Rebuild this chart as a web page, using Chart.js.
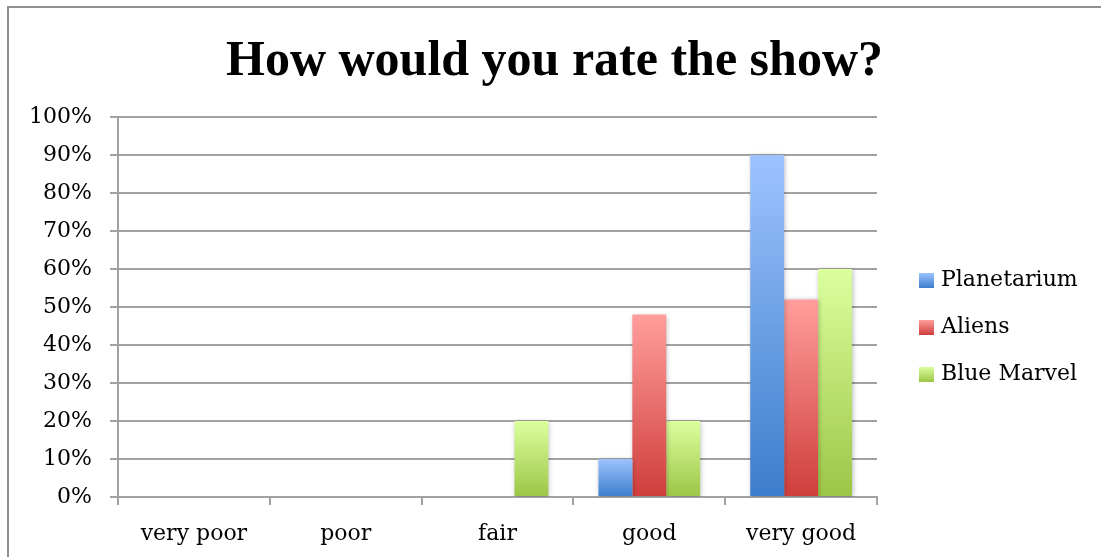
<!DOCTYPE html>
<html>
<head>
<meta charset="utf-8">
<title>How would you rate the show?</title>
<script src="https://cdn.jsdelivr.net/npm/chart.js@4.4.1/dist/chart.umd.min.js"></script>
<style>
  html, body { margin: 0; padding: 0; background: #fff; }
  #wrap { position: relative; width: 1101px; height: 557px; overflow: hidden; }
  #frame {
    position: absolute; left: 7px; top: 6px; width: 1200px; height: 700px;
    border-left: 2px solid #8e8e8e; border-top: 2px solid #8e8e8e;
  }
  canvas { position: absolute; left: 0; top: 0; }
</style>
</head>
<body>
<div id="wrap">
  <div id="frame"></div>
  <canvas id="chart" width="1101" height="557"></canvas>
</div>
<script>
// Survey answers (percent of respondents per rating)
const categories = ['very poor', 'poor', 'fair', 'good', 'very good'];
const seriesNames = ['Planetarium', 'Aliens', 'Blue Marvel'];
const planetarium = [0, 0, 0, 10, 90];
const aliens = [0, 0, 0, 48, 52];
const blueMarvel = [0, 0, 20, 20, 60];
const yTickValues = [0, 10, 20, 30, 40, 50, 60, 70, 80, 90, 100];

// Vertical gradient per series: [top, bottom]
const seriesGradients = [
  ['#9dc3ff', '#3c7dcb'],
  ['#ff9e9c', '#cf3e3b'],
  ['#dcff9e', '#9bc646']
];

const serif = "'DejaVu Serif', serif";
const gridGray = '#a2a2a2';

// Small gradient swatches used as legend markers
const swatches = seriesGradients.map(([top, bottom]) => {
  const c = document.createElement('canvas');
  c.width = 15; c.height = 15;
  const g = c.getContext('2d');
  const lg = g.createLinearGradient(0, 0, 0, 15);
  lg.addColorStop(0, top);
  lg.addColorStop(1, bottom);
  g.fillStyle = lg;
  g.fillRect(0, 0, 15, 15);
  return c;
});

function barFill(seriesIndex) {
  const [top, bottom] = seriesGradients[seriesIndex];
  return (context) => {
    const chart = context.chart;
    const y = chart.scales && chart.scales.y;
    if (!chart.chartArea || !y || context.raw === undefined || !context.raw) return bottom;
    const yTop = y.getPixelForValue(context.raw);
    const yBase = y.getPixelForValue(0);
    if (!isFinite(yTop) || !isFinite(yBase) || yTop === yBase) return bottom;
    const grad = chart.ctx.createLinearGradient(0, yTop, 0, yBase);
    grad.addColorStop(0, top);
    grad.addColorStop(1, bottom);
    return grad;
  };
}

const seriesValues = [planetarium, aliens, blueMarvel];

// Soft drop shadow under the bars
const barShadow = {
  id: 'barShadow',
  beforeDatasetsDraw(chart) {
    const ctx = chart.ctx;
    ctx.save();
    ctx.shadowColor = 'rgba(0,0,0,0.28)';
    ctx.shadowBlur = 5;
    ctx.shadowOffsetX = 1;
    ctx.shadowOffsetY = 1;
  },
  afterDatasetsDraw(chart) {
    chart.ctx.restore();
  }
};

// Fixed-width legend column on the right, nudged into place after layout
const legendPlacement = {
  id: 'legendPlacement',
  beforeUpdate(chart) {
    const legend = chart.legend;
    if (legend && !legend._fixedFit) {
      const origFit = legend.fit;
      legend.fit = function () {
        origFit.call(this);
        if (!this.isHorizontal()) this.width = 224;
      };
      legend._fixedFit = true;
    }
  },
  afterLayout(chart) {
    const legend = chart.legend;
    if (!legend) return;
    legend.left += 20;
    legend.top += 49;
    legend.bottom += 49;
  }
};

new Chart(document.getElementById('chart'), {
  type: 'bar',
  data: {
    labels: categories,
    datasets: seriesNames.map((name, i) => ({
      label: name,
      data: seriesValues[i],
      backgroundColor: barFill(i),
      borderWidth: 0,
      categoryPercentage: 0.67,
      barPercentage: 1.0
    }))
  },
  options: {
    responsive: false,
    animation: false,
    layout: { padding: { left: 8, right: 0, top: 0, bottom: 0 } },
    plugins: {
      title: {
        display: true,
        text: 'How would you rate the show?',
        color: '#000',
        font: { family: "'Liberation Serif', serif", size: 50, weight: 'bold', lineHeight: 1.2 },
        padding: { top: 32, bottom: 25 }
      },
      legend: {
        position: 'right',
        align: 'center',
        labels: {
          usePointStyle: true,
          boxWidth: 8,
          boxHeight: 15,
          padding: 25,
          color: '#000',
          font: { family: serif, size: 22 },
          generateLabels(chart) {
            const items = Chart.defaults.plugins.legend.labels.generateLabels(chart);
            items.forEach((item, i) => { item.pointStyle = swatches[i]; });
            return items;
          }
        }
      },
      tooltip: { enabled: false }
    },
    scales: {
      x: {
        grid: { display: true, drawOnChartArea: false, drawTicks: true, tickLength: 8, color: gridGray, lineWidth: 2 },
        border: { display: true, color: gridGray, width: 2 },
        ticks: { color: '#000', font: { family: serif, size: 22 }, padding: 16 },
        afterFit(scale) { scale.height = 60; }
      },
      y: {
        min: 0,
        max: 100,
        afterBuildTicks(scale) { scale.ticks = yTickValues.map(v => ({ value: v })); },
        ticks: { callback: v => v + '%', color: '#000', font: { family: serif, size: 22 }, padding: 18 },
        grid: { color: gridGray, lineWidth: 2, tickLength: 8 },
        border: { display: true, color: gridGray, width: 2 },
        afterFit(scale) { scale.width = 110; }
      }
    }
  },
  plugins: [barShadow, legendPlacement]
});
</script>
</body>
</html>
